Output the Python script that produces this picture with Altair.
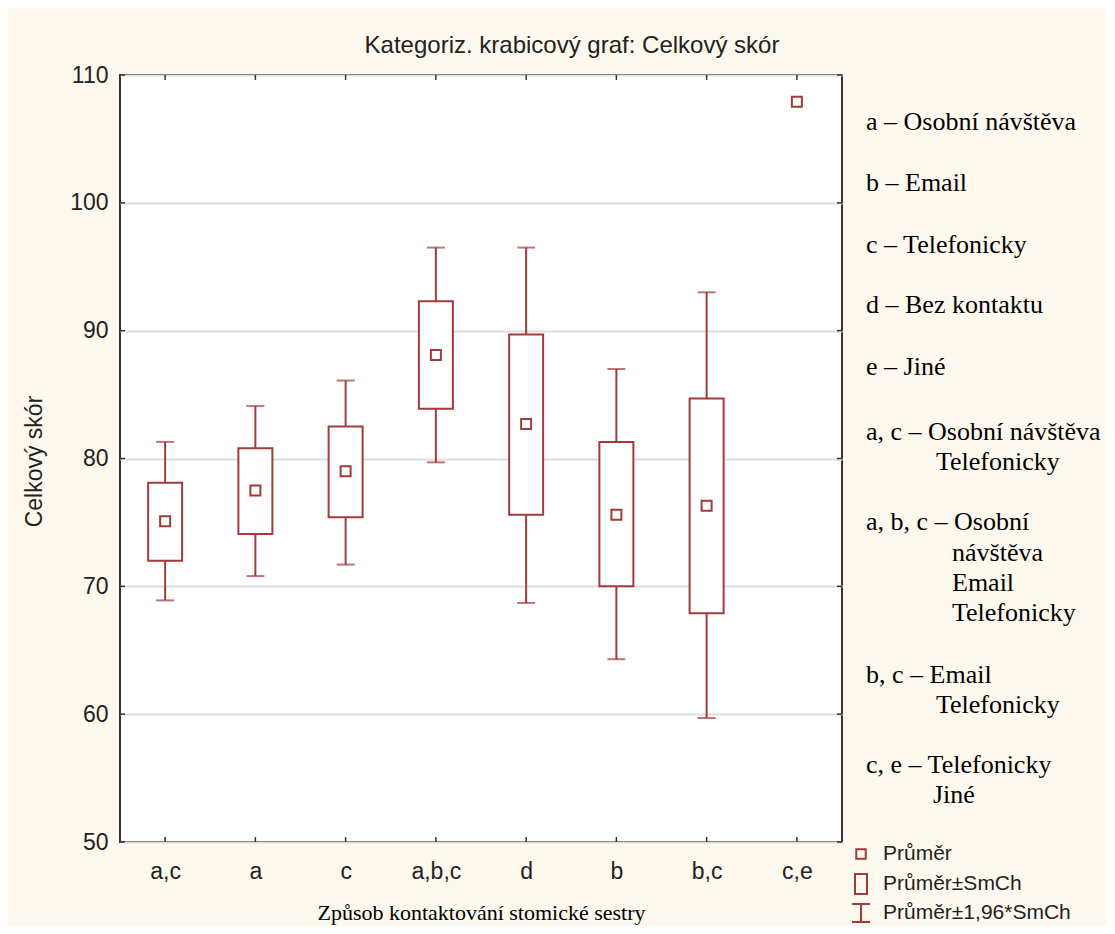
import altair as alt
import pandas as pd

# ---- data ----
categories = ["a,c", "a", "c", "a,b,c", "d", "b", "b,c", "c,e"]
means = [75.1, 77.5, 79.0, 88.1, 82.7, 75.6, 76.3, 107.9]
se_low = [72.0, 74.1, 75.4, 83.9, 75.6, 70.0, 67.9, None]
se_high = [78.1, 80.8, 82.5, 92.3, 89.7, 81.3, 84.7, None]
ci_low = [68.9, 70.8, 71.7, 79.7, 68.7, 64.3, 59.7, None]
ci_high = [81.3, 84.1, 86.1, 96.5, 96.5, 87.0, 93.0, None]
y_ticks = [50, 60, 70, 80, 90, 100, 110]

title_text = "Kategoriz. krabicový graf: Celkový skór"
x_title = "Způsob kontaktování stomické sestry"
y_title = "Celkový skór"

annot_text = ["a – Osobní návštěva", "b – Email", "c – Telefonicky", "d – Bez kontaktu",
              "e – Jiné", "a, c – Osobní návštěva", "Telefonicky", "a, b, c – Osobní",
              "návštěva", "Email", "Telefonicky", "b, c – Email", "Telefonicky",
              "c, e – Telefonicky", "Jiné"]
annot_x = [746, 746, 746, 746, 746, 746, 816, 746, 832, 832, 832, 746, 816, 746, 813]
annot_y = [47, 108, 170, 230, 292, 357, 387, 447, 478, 508, 538, 600, 630, 690, 720]

legend_labels = ["Průměr", "Průměr±SmCh", "Průměr±1,96*SmCh"]
legend_y = [779, 809, 838]

COL = "#A33B3B"
W, H = 722, 767

df = pd.DataFrame({"cat": categories, "mean": means, "se_lo": se_low,
                   "se_hi": se_high, "ci_lo": ci_low, "ci_hi": ci_high})
base = alt.Chart(df)
xscale = alt.Scale(type="point", padding=0.5, domain=categories)
xenc = alt.X("cat:N", sort=categories, scale=xscale,
             axis=alt.Axis(title=x_title, labelAngle=0, labelFontSize=23,
                           labelFont="Liberation Sans", labelColor="#222",
                           ticks=False, tickSize=0, domain=False, grid=False,
                           labelBaseline="middle", labelPadding=29,
                           titleFont="Liberation Serif", titleFontSize=22,
                           titleFontWeight="normal", titleColor="#000",
                           titleY=70, titleBaseline="middle"))
xs = alt.X("cat:N", sort=categories, scale=xscale)
yscale = alt.Scale(domain=[50, 110], nice=False, zero=False)
yaxis = alt.Axis(values=y_ticks, labelFontSize=23, labelFont="Liberation Sans",
                 labelColor="#222", ticks=False, tickSize=0, domain=False,
                 labelPadding=12, grid=True, gridColor="#DEDEDE", gridWidth=2,
                 title=y_title, titleFont="Liberation Sans", titleFontSize=23,
                 titleFontWeight="normal", titleColor="#222", titleAngle=-90,
                 titleX=-86, titleY=386, titleBaseline="middle")

valid = "isValid(datum.se_lo)"
whisk = base.transform_filter(valid).mark_rule(color=COL, strokeWidth=2).encode(
    x=xenc, y=alt.Y("ci_lo:Q", scale=yscale, axis=yaxis), y2="ci_hi:Q")
cap_lo = base.transform_filter(valid).mark_tick(color=COL, size=18, thickness=2).encode(
    x=xs, y="ci_lo:Q")
cap_hi = base.transform_filter(valid).mark_tick(color=COL, size=18, thickness=2).encode(
    x=xs, y="ci_hi:Q")
box = base.transform_filter(valid).mark_bar(width=34, fill="white", stroke=COL,
                                            strokeWidth=2).encode(
    x=xs, y="se_lo:Q", y2="se_hi:Q")
mean_pt = base.mark_point(shape="square", filled=False, size=100, color=COL,
                          strokeWidth=2, opacity=1).encode(x=xs, y="mean:Q")

# inward ticks on the frame
tdf = pd.DataFrame({"v": y_ticks})
lt = alt.Chart(tdf).mark_rule(color="#333", strokeWidth=1.5).encode(
    y="v:Q", x=alt.value(0), x2=alt.value(5))
rt = alt.Chart(tdf).mark_rule(color="#333", strokeWidth=1.5).encode(
    y="v:Q", x=alt.value(W), x2=alt.value(W - 5))
cdf = pd.DataFrame({"cat": categories})
bt = alt.Chart(cdf).mark_rule(color="#333", strokeWidth=1.5).encode(
    x=xs, y=alt.value(H), y2=alt.value(H - 5))
tt = alt.Chart(cdf).mark_rule(color="#333", strokeWidth=1.5).encode(
    x=xs, y=alt.value(0), y2=alt.value(5))

# title
title = alt.Chart(pd.DataFrame({"t": [title_text]})).mark_text(
    font="Liberation Sans", fontSize=24, color="#222", baseline="middle", align="center"
).encode(text="t:N", x=alt.value(452), y=alt.value(-29))

# right-hand annotations
adf = pd.DataFrame({"t": annot_text, "x": annot_x, "y": annot_y})
annots = [alt.Chart(adf.iloc[[i]]).mark_text(
    font="Liberation Serif", fontSize=26, color="#000", align="left", baseline="middle"
).encode(text="t:N", x=alt.value(int(adf.x[i])), y=alt.value(int(adf.y[i])))
    for i in range(len(adf))]

# manual legend
ldf = pd.DataFrame({"t": legend_labels, "y": legend_y})
leg_text = [alt.Chart(ldf.iloc[[i]]).mark_text(
    font="Liberation Sans", fontSize=21, color="#222", align="left", baseline="middle"
).encode(text="t:N", x=alt.value(763), y=alt.value(int(ldf.y[i])))
    for i in range(len(ldf))]
one = pd.DataFrame({"k": [0]})
leg_sq = alt.Chart(one).mark_point(shape="square", filled=False, size=90, color=COL,
                                   strokeWidth=2, opacity=1).encode(
    x=alt.value(741), y=alt.value(779))
leg_box = alt.Chart(one).mark_rect(fill="none", stroke=COL, strokeWidth=2).encode(
    x=alt.value(735), x2=alt.value(747), y=alt.value(799), y2=alt.value(819))
leg_w = alt.Chart(one).mark_rule(color=COL, strokeWidth=2).encode(
    x=alt.value(741), y=alt.value(829), y2=alt.value(847))
leg_c1 = alt.Chart(one).mark_rule(color=COL, strokeWidth=2).encode(
    x=alt.value(732), x2=alt.value(750), y=alt.value(829))
leg_c2 = alt.Chart(one).mark_rule(color=COL, strokeWidth=2).encode(
    x=alt.value(732), x2=alt.value(750), y=alt.value(847))

chart = alt.layer(
    whisk, box, cap_lo, cap_hi, mean_pt, lt, rt, bt, tt, title,
    *annots, *leg_text, leg_sq, leg_box, leg_w, leg_c1, leg_c2
).properties(
    width=W, height=H,
    autosize=alt.AutoSizeParams(type="none"),
    padding={"left": 112, "top": 67, "right": 265, "bottom": 84},
).configure(background="#FDF9EE").configure_view(
    fill="white", stroke="#333", strokeWidth=2
)

chart.save("out.html", embed_options={"renderer": "svg", "actions": False})
